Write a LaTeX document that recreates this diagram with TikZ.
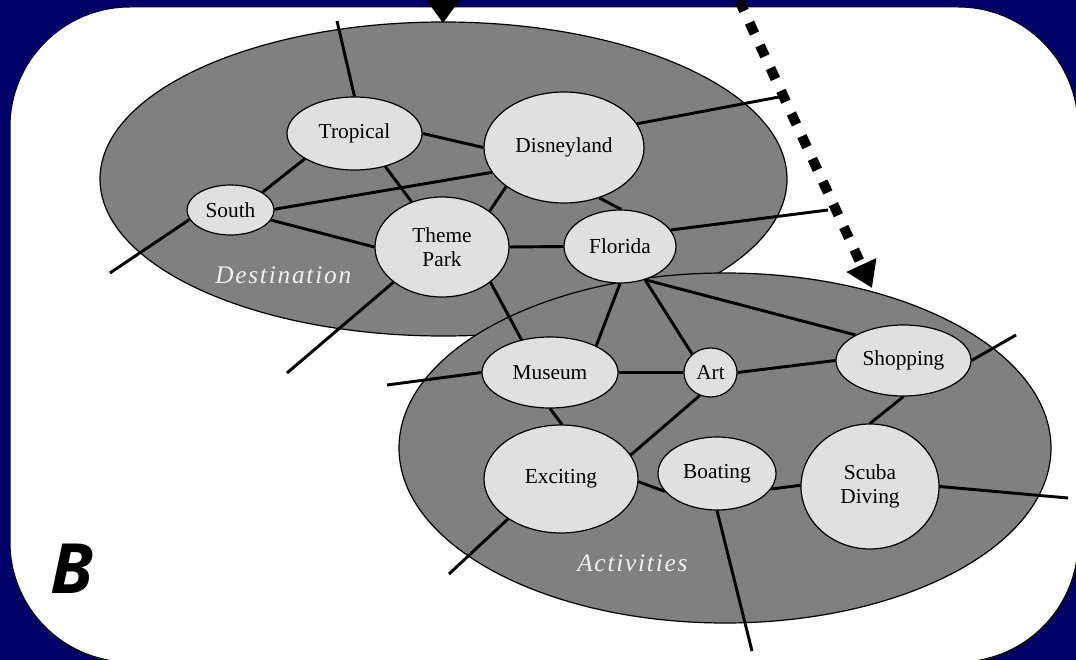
\documentclass[tikz,border=0pt]{standalone}
\usepackage{fontspec}
\setmainfont{Liberation Serif}
\newfontfamily\tagfont{Liberation Serif}[LetterSpace=7]
\newfontfamily\bigfont{Open Sans}
\usetikzlibrary{shapes.geometric,arrows.meta}
\definecolor{navy}{RGB}{0,0,102}
\definecolor{regionfill}{RGB}{128,128,128}
\definecolor{conceptfill}{RGB}{224,224,224}
\pgfdeclarelayer{regions}
\pgfdeclarelayer{links}
\pgfsetlayers{regions,links,main}
\begin{document}
\begin{tikzpicture}[x=0.75pt,y=-0.75pt,
  concept/.style={ellipse, draw=black, line width=0.9pt, fill=conceptfill,
    inner sep=0pt, align=center, font=\fontsize{16}{18}\selectfont},
  link/.style={line width=2.2pt},
  region/.style={draw=black, line width=0.9pt, fill=regionfill},
  tag/.style={font=\tagfont\itshape\fontsize{19}{22}\selectfont,
    text=white!94!black, anchor=base west, inner sep=0pt}]
\useasboundingbox (0,0) rectangle (1076,660);
\clip (0,0) rectangle (1076,660);

% concept nodes
\node[concept, minimum width=101.25pt, minimum height=54.75pt] (trop)   at (354.5,133.5) {Tropical};
\node[concept, minimum width=65.25pt,  minimum height=37.5pt]  (south)  at (230.5,210)   {South};
\node[concept, minimum width=100.5pt,  minimum height=75pt]    (theme)  at (442,247)     {Theme\\Park};
\node[concept, minimum width=120pt,    minimum height=83.25pt] (disney) at (564,147.5)   {Disneyland};
\node[concept, minimum width=84pt,     minimum height=54.75pt] (flor)   at (620,246.5)   {Florida};
\node[concept, minimum width=102pt,    minimum height=53.25pt] (mus)    at (550,372.5)   {Museum};
\node[concept, minimum width=39.75pt,  minimum height=36.75pt] (art)    at (710.5,372.5) {Art};
\node[concept, minimum width=101.25pt, minimum height=53.25pt] (shop)   at (903.5,360.5) {Shopping};
\node[concept, minimum width=103.5pt,  minimum height=93.75pt] (scuba)  at (870,486.5)   {Scuba\\Diving};
\node[concept, minimum width=88.5pt,   minimum height=54.75pt] (boat)   at (717,473.5)   {Boating};
\node[concept, minimum width=115.5pt,  minimum height=81pt]    (exc)    at (561,479)     {Exciting};

% region labels and panel letter
\node[tag] (destlbl) at (215,283) {Destination};
\node[tag] (actlbl)  at (577,571) {Activities};
\node[anchor=base west, inner sep=0pt, font=\bigfont\bfseries\itshape\fontsize{52}{60}\selectfont] (panel) at (50,593) {B};

% loose ends of links
\coordinate (fTrop)   at (337,21);
\coordinate (fSouth)  at (110,273);
\coordinate (fTheme)  at (287,373);
\coordinate (fDisney) at (779,97);
\coordinate (fFlor)   at (828,210);
\coordinate (fMus)    at (387,385);
\coordinate (fExc)    at (449,574);
\coordinate (fBoat)   at (752,651);
\coordinate (fScuba)  at (1068,498);
\coordinate (fShop)   at (1016,335);

% arrow end points
\coordinate (topFrom) at (443,-10);
\coordinate (topTo)   at (443,23);
\coordinate (dotFrom) at (739,0);
\coordinate (dotTo)   at (872,288);

\begin{pgfonlayer}{regions}
  \fill[navy] (0,0) rectangle (1076,660);
  \draw[fill=white, line width=0.75pt, rounded corners=90pt] (10,7) rectangle (1078,662);
  \draw[region] (443.5,179) ellipse [x radius=343.5, y radius=157];
  \draw[region] (725,448) ellipse [x radius=326, y radius=175];
\end{pgfonlayer}

\begin{pgfonlayer}{links}
  % Destination links
  \draw[link] (trop.0) -- (disney.180);
  \draw[link] (trop.207.7) -- (south.29.7);
  \draw[link] (trop.-47.7) -- (theme.124.6);
  \draw[link] (south.1) -- (disney.199.5);
  \draw[link] (south.-14) -- (theme.180);
  \draw[link] (disney.214.9) -- (theme.37);
  \draw[link] (theme.0) -- (flor.180);
  \draw[link] (disney.-55) -- (flor.88);
  % links between the regions
  \draw[link] (theme.-36.3) -- (mus.131);
  \draw[link] (flor.-90) -- (mus.30);
  \draw[link] (flor.-53) -- (art.135);
  \draw[link] (flor.-53) -- (shop.152);
  % Activities links
  \draw[link] (mus.0) -- (art.180);
  \draw[link] (mus.-90) -- (exc.89);
  \draw[link] (art.0) -- (shop.180);
  \draw[link] (art.245) -- (exc.19);
  \draw[link] (exc.-2) -- (boat.199.6);
  \draw[link] (boat.-16) -- (scuba.179);
  \draw[link] (shop.-90) -- (scuba.90);
  % loose links
  \draw[link] (trop.90) -- (fTrop);
  \draw[link] (south.193.5) -- (fSouth);
  \draw[link] (theme.216) -- (fTheme);
  \draw[link] (disney.18.8) -- (fDisney);
  \draw[link] (flor.18.6) -- (fFlor);
  \draw[link] (mus.180) -- (fMus);
  \draw[link] (exc.217) -- (fExc);
  \draw[link] (boat.-90) -- (fBoat);
  \draw[link] (scuba.0) -- (fScuba);
  \draw[link] (shop.0) -- (fShop);
\end{pgfonlayer}

% arrows
\draw[line width=2.2pt, -{Triangle[width=32pt,length=22.5pt]}] (topFrom) -- (topTo);
\draw[line width=7.5pt, dash pattern=on 9pt off 9.75pt,
  -{Triangle[width=23.5pt,length=19pt]}] (dotFrom) -- (dotTo);
\end{tikzpicture}
\end{document}
